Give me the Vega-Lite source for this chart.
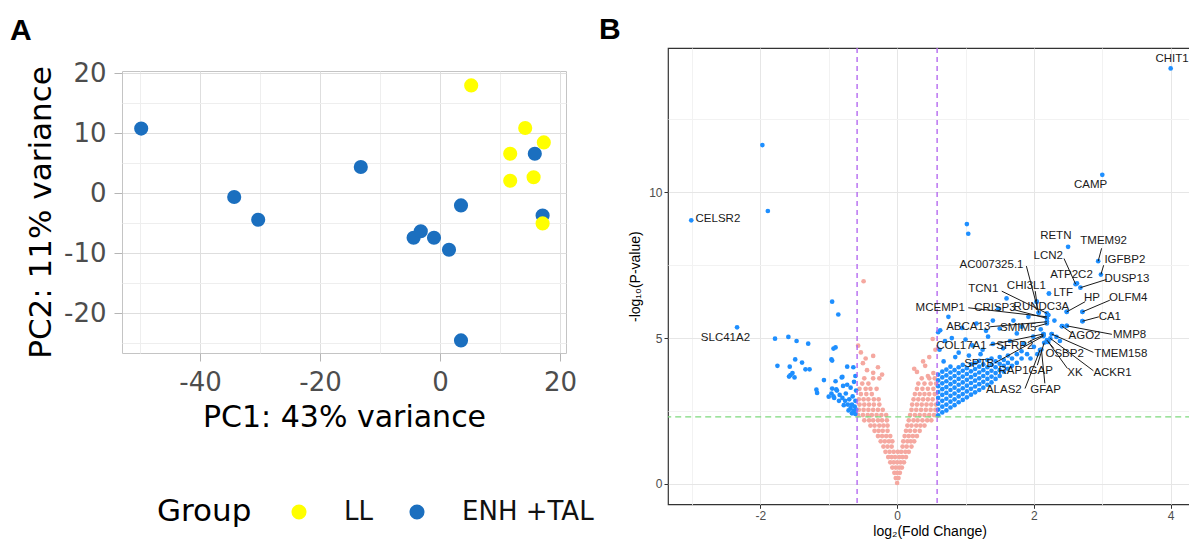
{
"$schema": "https://vega.github.io/schema/vega-lite/v6.json",
"background": "white",
"padding": {"left": 10, "top": 14, "right": 0, "bottom": 0},
"config": {"view": {"stroke": null}},
"datasets": {
"pca": [
{"pc1":-49.8,"pc2":10.8,"group":"ENH +TAL"},
{"pc1":-13.2,"pc2":4.4,"group":"ENH +TAL"},
{"pc1":-34.3,"pc2":-0.6,"group":"ENH +TAL"},
{"pc1":-30.3,"pc2":-4.4,"group":"ENH +TAL"},
{"pc1":3.5,"pc2":-2.0,"group":"ENH +TAL"},
{"pc1":-4.4,"pc2":-7.4,"group":"ENH +TAL"},
{"pc1":-3.2,"pc2":-6.3,"group":"ENH +TAL"},
{"pc1":-1.0,"pc2":-7.4,"group":"ENH +TAL"},
{"pc1":1.5,"pc2":-9.4,"group":"ENH +TAL"},
{"pc1":3.5,"pc2":-24.5,"group":"ENH +TAL"},
{"pc1":15.8,"pc2":6.6,"group":"ENH +TAL"},
{"pc1":17.1,"pc2":-3.7,"group":"ENH +TAL"},
{"pc1":5.2,"pc2":18.0,"group":"LL"},
{"pc1":14.2,"pc2":10.9,"group":"LL"},
{"pc1":17.3,"pc2":8.5,"group":"LL"},
{"pc1":11.7,"pc2":6.6,"group":"LL"},
{"pc1":11.7,"pc2":2.1,"group":"LL"},
{"pc1":15.6,"pc2":2.7,"group":"LL"},
{"pc1":17.1,"pc2":-5.0,"group":"LL"}
],
"ns": [
{"x":0,"y":0.03},
{"x":-0.02,"y":0.2},{"x":0.02,"y":0.2},
{"x":-0.04,"y":0.38},{"x":0,"y":0.38},{"x":0.04,"y":0.38},
{"x":-0.07,"y":0.56},{"x":-0.02,"y":0.56},{"x":0.03,"y":0.56},{"x":0.07,"y":0.56},
{"x":-0.1,"y":0.74},{"x":-0.05,"y":0.74},{"x":0,"y":0.74},{"x":0.05,"y":0.74},{"x":0.1,"y":0.74},
{"x":-0.13,"y":0.92},{"x":-0.08,"y":0.92},{"x":-0.03,"y":0.92},{"x":0.03,"y":0.92},{"x":0.08,"y":0.92},{"x":0.13,"y":0.92},
{"x":-0.17,"y":1.1},{"x":-0.11,"y":1.1},{"x":-0.05,"y":1.1},{"x":0.01,"y":1.1},{"x":0.06,"y":1.1},{"x":0.12,"y":1.1},{"x":0.17,"y":1.1},
{"x":-0.2,"y":1.28},{"x":-0.14,"y":1.28},{"x":-0.08,"y":1.28},{"x":0.08,"y":1.28},{"x":0.14,"y":1.28},{"x":0.21,"y":1.28},
{"x":-0.24,"y":1.46},{"x":-0.18,"y":1.46},{"x":-0.12,"y":1.46},{"x":-0.07,"y":1.46},{"x":0.09,"y":1.46},{"x":0.15,"y":1.46},{"x":0.2,"y":1.46},{"x":0.25,"y":1.46},
{"x":-0.28,"y":1.64},{"x":-0.22,"y":1.64},{"x":-0.16,"y":1.64},{"x":-0.1,"y":1.64},{"x":0.11,"y":1.64},{"x":0.17,"y":1.64},{"x":0.23,"y":1.64},{"x":0.29,"y":1.64},
{"x":-0.33,"y":1.82},{"x":-0.27,"y":1.82},{"x":-0.21,"y":1.82},{"x":-0.14,"y":1.82},{"x":0.13,"y":1.82},{"x":0.19,"y":1.82},{"x":0.26,"y":1.82},{"x":0.33,"y":1.82},
{"x":-0.39,"y":2.0},{"x":-0.33,"y":2.0},{"x":-0.26,"y":2.0},{"x":-0.2,"y":2.0},{"x":-0.14,"y":2.0},{"x":0.15,"y":2.0},{"x":0.21,"y":2.0},{"x":0.28,"y":2.0},{"x":0.34,"y":2.0},{"x":0.4,"y":2.0},
{"x":-0.48,"y":2.18},{"x":-0.41,"y":2.18},{"x":-0.35,"y":2.18},{"x":-0.28,"y":2.18},{"x":-0.22,"y":2.18},{"x":-0.15,"y":2.18},{"x":0.17,"y":2.18},{"x":0.24,"y":2.18},{"x":0.3,"y":2.18},{"x":0.37,"y":2.18},{"x":0.44,"y":2.18},{"x":0.5,"y":2.18},
{"x":-0.57,"y":2.36},{"x":-0.5,"y":2.36},{"x":-0.43,"y":2.36},{"x":-0.37,"y":2.36},{"x":-0.3,"y":2.36},{"x":-0.23,"y":2.36},{"x":-0.16,"y":2.36},{"x":0.19,"y":2.36},{"x":0.26,"y":2.36},{"x":0.33,"y":2.36},{"x":0.4,"y":2.36},{"x":0.47,"y":2.36},{"x":0.54,"y":2.36},
{"x":-0.56,"y":2.54},{"x":-0.49,"y":2.54},{"x":-0.42,"y":2.54},{"x":-0.35,"y":2.54},{"x":-0.28,"y":2.54},{"x":-0.21,"y":2.54},{"x":0.21,"y":2.54},{"x":0.28,"y":2.54},{"x":0.35,"y":2.54},{"x":0.42,"y":2.54},{"x":0.49,"y":2.54},{"x":0.56,"y":2.54},
{"x":-0.55,"y":2.72},{"x":-0.48,"y":2.72},{"x":-0.41,"y":2.72},{"x":-0.34,"y":2.72},{"x":-0.26,"y":2.72},{"x":0.22,"y":2.72},{"x":0.29,"y":2.72},{"x":0.36,"y":2.72},{"x":0.43,"y":2.72},{"x":0.5,"y":2.72},{"x":0.57,"y":2.72},
{"x":-0.56,"y":2.9},{"x":-0.49,"y":2.9},{"x":-0.42,"y":2.9},{"x":-0.34,"y":2.9},{"x":-0.27,"y":2.9},{"x":0.24,"y":2.9},{"x":0.31,"y":2.9},{"x":0.38,"y":2.9},{"x":0.45,"y":2.9},{"x":0.52,"y":2.9},
{"x":-0.53,"y":3.08},{"x":-0.45,"y":3.08},{"x":-0.37,"y":3.08},{"x":0.26,"y":3.08},{"x":0.33,"y":3.08},{"x":0.4,"y":3.08},{"x":0.47,"y":3.08},{"x":0.55,"y":3.08},
{"x":-0.55,"y":3.26},{"x":-0.46,"y":3.26},{"x":-0.39,"y":3.26},{"x":-0.3,"y":3.26},{"x":0.29,"y":3.26},{"x":0.37,"y":3.26},{"x":0.45,"y":3.26},{"x":0.53,"y":3.26},
{"x":-0.51,"y":3.44},{"x":-0.42,"y":3.44},{"x":0.31,"y":3.44},{"x":0.4,"y":3.44},{"x":0.49,"y":3.44},{"x":0.57,"y":3.44},
{"x":-0.48,"y":3.62},{"x":-0.35,"y":3.62},{"x":-0.26,"y":3.62},{"x":0.36,"y":3.62},{"x":0.47,"y":3.62},{"x":0.55,"y":3.62},
{"x":-0.35,"y":3.81},{"x":-0.5,"y":4.14},{"x":-0.35,"y":4.39},{"x":-0.53,"y":4.51},{"x":-0.57,"y":4.74},{"x":-0.49,"y":6.95},{"x":-0.44,"y":3.9},{"x":-0.22,"y":3.75},{"x":0.29,"y":3.84},{"x":0.41,"y":4.05},{"x":0.52,"y":4.97},{"x":0.56,"y":4.6},{"x":0.47,"y":4.35},{"x":0.38,"y":4.2},{"x":0.53,"y":3.8},{"x":0.25,"y":3.95},{"x":0.45,"y":3.7},{"x":-0.28,"y":4.0},{"x":-0.46,"y":4.3}
],
"sig": [
{"x":-1.97,"y":11.62},{"x":-1.89,"y":9.36},{"x":-1.785,"y":4.98},{"x":-1.59,"y":5.04},{"x":-1.47,"y":4.9},{"x":-1.3,"y":4.81},{"x":-0.95,"y":6.25},{"x":-0.86,"y":5.81},{"x":-0.9,"y":4.68},{"x":-0.93,"y":4.64},{"x":-0.96,"y":4.27},{"x":-0.95,"y":4.23},{"x":-0.73,"y":4.02},{"x":-1.75,"y":4.05},{"x":-1.57,"y":4.02},{"x":-1.49,"y":4.27},{"x":-1.39,"y":4.16},{"x":-1.34,"y":3.93},{"x":-1.28,"y":3.93},{"x":-1.56,"y":3.73},{"x":-1.53,"y":3.8},{"x":-1.5,"y":3.65},{"x":-1.58,"y":3.68},{"x":-1.18,"y":3.23},{"x":-1.17,"y":3.12},{"x":-1.07,"y":3.56},{"x":-1.0,"y":2.99},{"x":-0.96,"y":3.1},{"x":-0.95,"y":3.27},{"x":-0.9,"y":3.52},{"x":-0.81,"y":3.65},{"x":-0.79,"y":3.36},{"x":-0.88,"y":3.2},{"x":-0.84,"y":3.05},{"x":-0.8,"y":2.95},{"x":-0.76,"y":2.85},{"x":-0.72,"y":2.72},{"x":-0.68,"y":2.6},{"x":-0.64,"y":2.5},{"x":-0.61,"y":2.4},{"x":-0.66,"y":2.72},{"x":-0.7,"y":2.9},{"x":-0.62,"y":2.65},{"x":-0.75,"y":3.1},{"x":-0.65,"y":3.0},{"x":-0.61,"y":2.85},{"x":-0.68,"y":3.3},{"x":-0.6,"y":3.2},{"x":-0.63,"y":3.5},{"x":-0.71,"y":2.52},{"x":-0.78,"y":2.7},{"x":-0.85,"y":2.85},{"x":-0.92,"y":2.95},{"x":-0.6,"y":2.55},{"x":-0.66,"y":2.42},{"x":-0.89,"y":3.24},{"x":-0.8,"y":3.67},{"x":-0.93,"y":3.0},{"x":-0.73,"y":3.4},{"x":-0.61,"y":3.7},{"x":-0.64,"y":4.0},
{"x":0.6,"y":2.35},{"x":0.6,"y":2.55},{"x":0.6,"y":2.75},{"x":0.6,"y":2.95},{"x":0.6,"y":3.15},{"x":0.6,"y":3.35},{"x":0.6,"y":3.55},{"x":0.6,"y":3.75},
{"x":0.66,"y":2.45},{"x":0.66,"y":2.65},{"x":0.66,"y":2.85},{"x":0.66,"y":3.05},{"x":0.66,"y":3.25},{"x":0.66,"y":3.45},{"x":0.66,"y":3.65},{"x":0.66,"y":3.85},
{"x":0.72,"y":2.52},{"x":0.72,"y":2.72},{"x":0.72,"y":2.92},{"x":0.72,"y":3.12},{"x":0.72,"y":3.32},{"x":0.72,"y":3.52},{"x":0.72,"y":3.72},{"x":0.72,"y":3.92},
{"x":0.78,"y":2.62},{"x":0.78,"y":2.82},{"x":0.78,"y":3.02},{"x":0.78,"y":3.22},{"x":0.78,"y":3.42},{"x":0.78,"y":3.62},{"x":0.78,"y":3.82},{"x":0.78,"y":4.02},
{"x":0.84,"y":2.7},{"x":0.84,"y":2.9},{"x":0.84,"y":3.1},{"x":0.84,"y":3.3},{"x":0.84,"y":3.5},{"x":0.84,"y":3.7},{"x":0.84,"y":3.9},
{"x":0.9,"y":2.8},{"x":0.9,"y":3.0},{"x":0.9,"y":3.2},{"x":0.9,"y":3.4},{"x":0.9,"y":3.6},{"x":0.9,"y":3.8},{"x":0.9,"y":4.0},
{"x":0.96,"y":2.88},{"x":0.96,"y":3.08},{"x":0.96,"y":3.28},{"x":0.96,"y":3.48},{"x":0.96,"y":3.68},{"x":0.96,"y":3.88},{"x":0.96,"y":4.08},
{"x":1.02,"y":2.97},{"x":1.02,"y":3.17},{"x":1.02,"y":3.37},{"x":1.02,"y":3.57},{"x":1.02,"y":3.77},{"x":1.02,"y":3.97},
{"x":1.08,"y":3.06},{"x":1.08,"y":3.26},{"x":1.08,"y":3.46},{"x":1.08,"y":3.66},{"x":1.08,"y":3.86},{"x":1.08,"y":4.1},
{"x":1.14,"y":3.14},{"x":1.14,"y":3.34},{"x":1.14,"y":3.54},{"x":1.14,"y":3.74},{"x":1.14,"y":3.94},{"x":1.14,"y":4.15},
{"x":1.2,"y":3.22},{"x":1.2,"y":3.42},{"x":1.2,"y":3.62},{"x":1.2,"y":3.82},{"x":1.2,"y":4.02},{"x":1.2,"y":4.22},
{"x":1.26,"y":3.3},{"x":1.26,"y":3.5},{"x":1.26,"y":3.7},{"x":1.26,"y":3.9},{"x":1.26,"y":4.1},
{"x":1.32,"y":3.4},{"x":1.32,"y":3.6},{"x":1.32,"y":3.8},{"x":1.32,"y":4.0},{"x":1.32,"y":4.25},
{"x":1.38,"y":3.48},{"x":1.38,"y":3.68},{"x":1.38,"y":3.88},{"x":1.38,"y":4.08},{"x":1.38,"y":4.3},
{"x":1.44,"y":3.6},{"x":1.44,"y":3.8},{"x":1.44,"y":4.0},{"x":1.44,"y":4.2},
{"x":1.5,"y":3.7},{"x":1.5,"y":3.9},{"x":1.5,"y":4.12},{"x":1.5,"y":4.35},
{"x":1.56,"y":3.85},{"x":1.56,"y":4.05},{"x":1.56,"y":4.25},
{"x":1.62,"y":3.95},{"x":1.62,"y":4.15},{"x":1.62,"y":4.4},
{"x":1.68,"y":4.05},{"x":1.68,"y":4.3},{"x":1.75,"y":4.15},{"x":1.75,"y":4.45},{"x":1.82,"y":4.3},{"x":1.82,"y":4.55},{"x":1.9,"y":4.45},
{"x":1.02,"y":8.91},{"x":1.04,"y":8.58},{"x":1.6,"y":6.36},{"x":0.75,"y":5.73},{"x":0.63,"y":5.27},{"x":1.16,"y":5.5},{"x":1.33,"y":5.05},{"x":1.5,"y":5.33},{"x":1.75,"y":5.16},{"x":1.92,"y":5.73},{"x":1.82,"y":5.39},{"x":1.99,"y":5.05},{"x":0.6,"y":5.2},{"x":0.7,"y":4.9},{"x":0.62,"y":4.6},{"x":0.9,"y":4.5},{"x":1.0,"y":4.95},{"x":1.1,"y":4.75},{"x":1.25,"y":4.6},{"x":1.4,"y":4.8},{"x":1.55,"y":4.65},{"x":1.65,"y":4.9},{"x":1.85,"y":4.8},{"x":0.85,"y":4.35},{"x":1.05,"y":4.4},{"x":1.22,"y":4.45},{"x":0.68,"y":4.2},{"x":1.4,"y":5.6},{"x":1.7,"y":5.6},{"x":2.21,"y":5.79},{"x":2.19,"y":5.56},{"x":2.14,"y":5.14},{"x":2.26,"y":5.14},{"x":2.41,"y":5.41},{"x":2.48,"y":5.42},{"x":2.71,"y":5.58},{"x":2.71,"y":5.9},{"x":2.48,"y":5.9},{"x":2.04,"y":6.25},{"x":2.07,"y":5.87},{"x":2.22,"y":6.53},{"x":2.09,"y":4.59},{"x":2.19,"y":4.87},{"x":2.33,"y":5.04},{"x":2.0,"y":4.7},{"x":2.1,"y":5.3},{"x":2.3,"y":5.6},{"x":2.38,"y":4.9},{"x":1.95,"y":4.3},{"x":2.05,"y":4.45},{"x":1.3,"y":5.25},{"x":0.95,"y":5.35},{"x":0.8,"y":5.0},{"x":1.48,"y":6.0}
],
"lab": [
{"gene":"CHIT1","x":4.0,"y":14.25,"lx":4.02,"ly":14.58},
{"gene":"CAMP","x":3.0,"y":10.6,"lx":2.83,"ly":10.26},
{"gene":"CELSR2","x":-3.01,"y":9.04,"lx":-2.62,"ly":9.08},
{"gene":"SLC41A2","x":-2.34,"y":5.37,"lx":-2.51,"ly":5.02},
{"gene":"RETN","x":2.5,"y":8.13,"lx":2.32,"ly":8.5},
{"gene":"TMEM92","x":2.94,"y":7.64,"lx":3.02,"ly":8.32,"sx":2.99,"sy":8.08},
{"gene":"IGFBP2","x":2.98,"y":7.18,"lx":3.33,"ly":7.67,"sx":3.02,"sy":7.5},
{"gene":"LCN2","x":2.61,"y":6.85,"lx":2.21,"ly":7.81,"sx":2.44,"sy":7.73},
{"gene":"ATP2C2","x":2.63,"y":6.88,"lx":2.55,"ly":7.18},
{"gene":"DUSP13","x":2.68,"y":6.73,"lx":3.36,"ly":7.02,"sx":3.06,"sy":7.01},
{"gene":"LTF","x":2.22,"y":6.53,"lx":2.43,"ly":6.55},
{"gene":"CHI3L1","x":2.04,"y":6.25,"lx":1.89,"ly":6.79,"sx":2.02,"sy":6.61},
{"gene":"AC007325.1","x":2.07,"y":5.87,"lx":1.38,"ly":7.5,"sx":1.89,"sy":7.47},
{"gene":"TCN1","x":2.19,"y":5.85,"lx":1.26,"ly":6.67,"sx":1.53,"sy":6.61},
{"gene":"MCEMP1","x":2.19,"y":5.73,"lx":0.63,"ly":6.04,"sx":1.04,"sy":6.04},
{"gene":"CRISP3","x":2.19,"y":5.68,"lx":1.43,"ly":6.02,"sx":1.7,"sy":5.98},
{"gene":"RUNDC3A","x":2.21,"y":5.79,"lx":2.11,"ly":6.07},
{"gene":"HP","x":2.48,"y":5.9,"lx":2.85,"ly":6.36,"sx":2.75,"sy":6.25},
{"gene":"OLFM4","x":2.71,"y":5.9,"lx":3.38,"ly":6.36,"sx":3.11,"sy":6.3},
{"gene":"CA1","x":2.71,"y":5.58,"lx":3.11,"ly":5.73,"sx":2.95,"sy":5.73},
{"gene":"ABCA13","x":2.19,"y":5.56,"lx":1.04,"ly":5.39,"sx":1.36,"sy":5.39},
{"gene":"SMIM5","x":2.19,"y":5.5,"lx":1.77,"ly":5.35,"sx":2.02,"sy":5.39},
{"gene":"AGO2","x":2.41,"y":5.41,"lx":2.74,"ly":5.08,"sx":2.55,"sy":5.18},
{"gene":"MMP8","x":2.48,"y":5.42,"lx":3.4,"ly":5.1,"sx":3.14,"sy":5.13},
{"gene":"COL17A1","x":2.14,"y":5.14,"lx":0.94,"ly":4.74,"sx":1.35,"sy":4.76},
{"gene":"SFRP2","x":2.14,"y":5.1,"lx":1.72,"ly":4.74,"sx":1.94,"sy":4.9},
{"gene":"TMEM158","x":2.26,"y":5.14,"lx":3.27,"ly":4.47,"sx":2.87,"sy":4.51},
{"gene":"OSBP2","x":2.19,"y":4.93,"lx":2.45,"ly":4.47,"sx":2.29,"sy":4.65},
{"gene":"ACKR1","x":2.24,"y":4.99,"lx":3.15,"ly":3.82,"sx":2.87,"sy":3.88},
{"gene":"XK","x":2.21,"y":4.87,"lx":2.6,"ly":3.82,"sx":2.49,"sy":3.96},
{"gene":"SPTB","x":2.14,"y":5.07,"lx":1.2,"ly":4.1,"sx":1.43,"sy":4.15},
{"gene":"RAP1GAP","x":2.15,"y":4.84,"lx":1.88,"ly":3.87,"sx":2.05,"sy":4.07},
{"gene":"ALAS2","x":2.09,"y":4.59,"lx":1.56,"ly":3.22,"sx":1.87,"sy":3.27},
{"gene":"GFAP","x":2.11,"y":4.61,"lx":2.17,"ly":3.22,"sx":2.16,"sy":3.45}
],
"cut": [{"lfc":-0.585},{"lfc":0.585}],
"pcut": [{"p":2.3}]
},
"spacing": 20,
"hconcat": [
{
"spacing": 0,
"vconcat": [
{
"data": {"values": []},
"width": 444, "height": 10.8,
"view": {"stroke": null},
"title": {"text": "A", "anchor": "start", "frame": "group", "dx": -112, "offset": -22, "baseline": "alphabetic", "font": "Liberation Sans", "fontSize": 30, "fontWeight": "bold", "color": "#000000"},
"mark": "point",
"encoding": {}
},
{
"data": {"name": "pca"},
"width": 444, "height": 282,
"view": {"stroke": "#c4c4c4"},
"mark": {"type": "circle", "size": 200, "opacity": 1},
"encoding": {
"x": {"field": "pc1", "type": "quantitative", "scale": {"domain": [-53, 21], "nice": false, "zero": false},
 "axis": {"values": [-50,-40,-30,-20,-10,0,10,20], "labelExpr": "datum.value % 20 === 0 ? '' + datum.value : ''",
  "gridColor": {"condition": {"test": "datum.value % 20 === 0", "value": "#dedede"}, "value": "#eeeeee"},
  "tickOpacity": {"condition": {"test": "datum.value % 20 === 0", "value": 1}, "value": 0},
  "domain": false, "tickColor": "#b5b5b5", "tickSize": 8, "labelFont": "DejaVu Sans", "labelFontSize": 26, "labelColor": "#4d4d4d", "labelPadding": 8,
  "title": "PC1: 43% variance", "titleFont": "DejaVu Sans", "titleFontSize": 30, "titleFontWeight": "normal", "titleColor": "#000000", "titlePadding": 7, "labelOverlap": false, "labelFlush": false}},
"y": {"field": "pc2", "type": "quantitative", "scale": {"domain": [-26.6, 20.4], "nice": false, "zero": false},
 "axis": {"values": [-25,-20,-15,-10,-5,0,5,10,15,20], "labelExpr": "datum.value % 10 === 0 ? '' + datum.value : ''",
  "gridColor": {"condition": {"test": "datum.value % 10 === 0", "value": "#dedede"}, "value": "#eeeeee"},
  "tickOpacity": {"condition": {"test": "datum.value % 10 === 0", "value": 1}, "value": 0},
  "domain": false, "tickColor": "#b5b5b5", "tickSize": 8, "labelFont": "DejaVu Sans", "labelFontSize": 26, "labelColor": "#4d4d4d", "labelPadding": 8,
  "title": "PC2: 11% variance", "titleFont": "DejaVu Sans", "titleFontSize": 31, "titleFontWeight": "normal", "titleColor": "#000000", "titlePadding": 6, "labelOverlap": false, "labelFlush": false}},
"color": {"field": "group", "type": "nominal", "scale": {"domain": ["LL", "ENH +TAL"], "range": ["#FFFF00", "#1B6FBF"]},
 "legend": {"title": "Group", "orient": "none", "legendX": 35, "legendY": 451, "direction": "horizontal", "titleOrient": "left",
  "titleFont": "DejaVu Sans", "titleFontSize": 31, "titleFontWeight": "normal", "titleColor": "#000000", "titlePadding": 34, "titleBaseline": "middle",
  "labelFont": "DejaVu Sans", "labelFontSize": 26, "labelColor": "#111111", "labelOffset": 32, "symbolSize": 227, "symbolType": "circle", "symbolStrokeWidth": 0, "symbolOpacity": 1, "columnPadding": 31}}
}
}
]
},
{
"width": 523.2, "height": 456.3,
"view": {"stroke": "#333333", "strokeWidth": 1.2},
"title": {"text": "B", "anchor": "start", "frame": "group", "dx": -69, "offset": -22, "baseline": "alphabetic", "font": "Liberation Sans", "fontSize": 30, "fontWeight": "bold", "color": "#000000"},
"layer": [
{
"encoding": {
"x": {"field": "x", "type": "quantitative", "title": "log₂(Fold Change)", "scale": {"domain": [-3.35, 4.3], "nice": false, "zero": false},
 "axis": {"values": [-3,-2,-1,0,1,2,3,4], "labelExpr": "datum.value % 2 === 0 ? '' + datum.value : ''",
  "gridColor": {"condition": {"test": "datum.value % 2 === 0", "value": "#e6e6e6"}, "value": "#f2f2f2"},
  "tickOpacity": {"condition": {"test": "datum.value % 2 === 0", "value": 1}, "value": 0},
  "domain": false, "tickColor": "#333333", "tickSize": 4, "labelFont": "Liberation Sans", "labelFontSize": 12, "labelColor": "#4d4d4d", "labelPadding": 2,
  "titleFont": "Liberation Sans", "titleFontSize": 14, "titleFontWeight": "normal", "titleColor": "#000000", "titlePadding": 3, "labelOverlap": false, "labelFlush": false}},
"y": {"field": "y", "type": "quantitative", "title": "-log₁₀(P-value)", "scale": {"domain": [-0.7, 14.95], "nice": false, "zero": false},
 "axis": {"values": [0,2.5,5,7.5,10,12.5], "labelExpr": "datum.value % 5 === 0 ? '' + datum.value : ''",
  "gridColor": {"condition": {"test": "datum.value % 5 === 0", "value": "#e6e6e6"}, "value": "#f2f2f2"},
  "tickOpacity": {"condition": {"test": "datum.value % 5 === 0", "value": 1}, "value": 0},
  "domain": false, "tickColor": "#333333", "tickSize": 4, "labelFont": "Liberation Sans", "labelFontSize": 12, "labelColor": "#4d4d4d", "labelPadding": 2,
  "titleFont": "Liberation Sans", "titleFontSize": 14, "titleFontWeight": "normal", "titleColor": "#000000", "titlePadding": 6, "labelOverlap": false, "labelFlush": false}}
},
"layer": [
{"data": {"name": "ns"}, "mark": {"type": "circle", "size": 22, "color": "#F5A8A0", "opacity": 1}},
{"data": {"name": "sig"}, "mark": {"type": "circle", "size": 22, "color": "#1E8FFF", "opacity": 1}},
{"data": {"name": "lab"}, "mark": {"type": "circle", "size": 22, "color": "#1E8FFF", "opacity": 1}}
]
},
{"data": {"name": "cut"}, "mark": {"type": "rule", "color": "#B56AF0", "strokeDash": [5, 4], "strokeWidth": 1.4},
 "encoding": {"x": {"field": "lfc", "type": "quantitative", "title": "log₂(Fold Change)", "scale": {"domain": [-3.35, 4.3], "nice": false, "zero": false}}}},
{"data": {"name": "pcut"}, "mark": {"type": "rule", "color": "#7FD97F", "strokeDash": [6, 4], "strokeWidth": 1.4},
 "encoding": {"y": {"field": "p", "type": "quantitative", "title": "-log₁₀(P-value)", "scale": {"domain": [-0.7, 14.95], "nice": false, "zero": false}}}},
{"data": {"name": "lab"}, "transform": [{"filter": "isValid(datum.sx)"}], "mark": {"type": "rule", "color": "#1a1a1a", "strokeWidth": 1},
 "encoding": {
  "x": {"field": "x", "type": "quantitative", "title": "log₂(Fold Change)", "scale": {"domain": [-3.35, 4.3], "nice": false, "zero": false}},
  "y": {"field": "y", "type": "quantitative", "title": "-log₁₀(P-value)", "scale": {"domain": [-0.7, 14.95], "nice": false, "zero": false}},
  "x2": {"field": "sx"}, "y2": {"field": "sy"}}},
{"data": {"name": "lab"}, "mark": {"type": "text", "font": "Liberation Sans", "fontSize": 11.5, "color": "#1a1a1a", "align": "center", "baseline": "middle"},
 "encoding": {
  "x": {"field": "lx", "type": "quantitative", "title": "log₂(Fold Change)", "scale": {"domain": [-3.35, 4.3], "nice": false, "zero": false}},
  "y": {"field": "ly", "type": "quantitative", "title": "-log₁₀(P-value)", "scale": {"domain": [-0.7, 14.95], "nice": false, "zero": false}},
  "text": {"field": "gene"}}}
]
}
]
}
